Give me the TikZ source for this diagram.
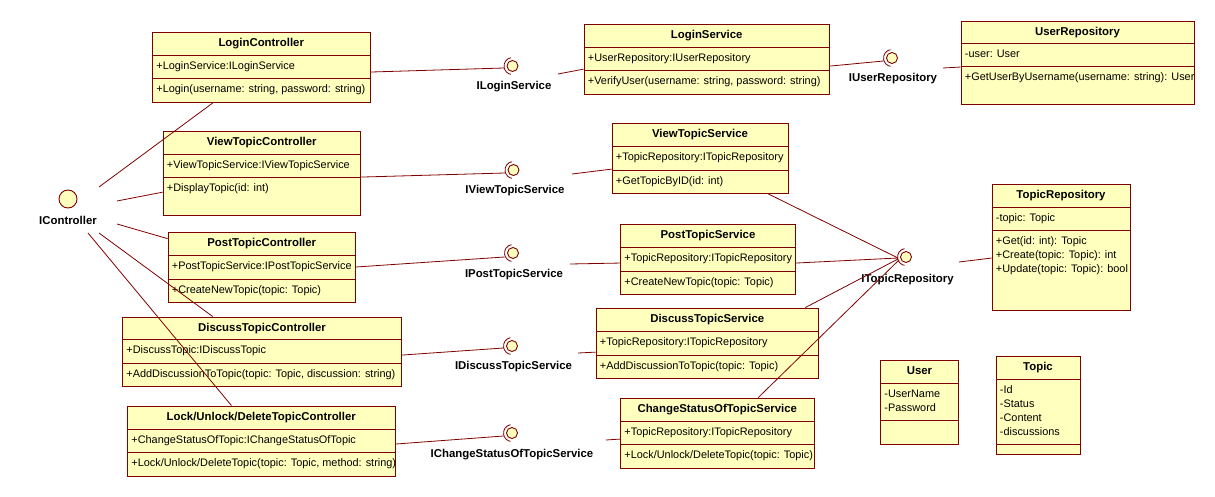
\documentclass[tikz,border=0pt]{standalone}
\usepackage{fontspec}
\setmainfont{Liberation Sans}
\usetikzlibrary{calc,fit}
\definecolor{rosefill}{RGB}{255,255,190}
\definecolor{roseline}{RGB}{128,0,0}
\tikzset{
  clsbox/.style={draw=roseline, fill=rosefill, line width=0.9pt, inner sep=0pt},
  clsline/.style={draw=roseline, line width=0.9pt},
  ctitle/.style={font=\bfseries\fontsize{11.4}{13}\selectfont, anchor=base, inner sep=0pt},
  ctext/.style={font=\fontsize{10.9}{13}\selectfont, anchor=base west, inner sep=0pt},
  conn/.style={draw=roseline, line width=0.8pt},
  iface/.style={circle, draw=roseline, fill=rosefill, line width=0.9pt, minimum size=11pt, inner sep=0pt},
  ilabel/.style={font=\bfseries\fontsize{11.4}{13}\selectfont, inner sep=0pt},
}
\newcommand\umlcls[8]{%
  \coordinate (#1-nw) at #2;
  \coordinate (#1-se) at #3;
  \node[clsbox, fit=(#1-nw)(#1-se)] (#1) {};
  \draw[clsline] (#1.west |- 0,#4) -- (#1.east |- 0,#4);
  \draw[clsline] (#1.west |- 0,#5) -- (#1.east |- 0,#5);
  \node[ctitle] (#1-t) at ($(#1.north)+(0,14.5)$) {#6};
  \foreach \ltext [count=\lidx] in {#7} {%
    \node[ctext] (#1-a\lidx) at ($(#1.west |- 0,#4)+(4.2,14.5*1+14*\lidx-14)$) {\ltext};}
  \foreach \ltext [count=\lidx] in {#8} {%
    \node[ctext] (#1-o\lidx) at ($(#1.west |- 0,#5)+(4.2,14.5*1+14*\lidx-14)$) {\ltext};}
}
\newcommand\uiface[4]{%
  \node[iface] (#1) at #2 {};
  \node[ilabel] (#1-l) at #3 {#4};
  \draw[conn] ([shift={(100:8.5pt)}]#1.center) arc[start angle=100, end angle=260, radius=8.5pt];
}
\begin{document}
\begin{tikzpicture}[x=1pt, y=-1pt]
\fill[white] (0,0) rectangle (1215,497);
\useasboundingbox (0,0) rectangle (1215,497);

% controllers
\umlcls{lc}{(152.5,32.5)}{(370,102.5)}{55}{78.5}{LoginController}
  {{+LoginService:ILoginService}}{{+Login(username: string, password: string)}}
\umlcls{vtc}{(163,131)}{(360.5,215)}{154}{177}{ViewTopicController}
  {{+ViewTopicService:IViewTopicService}}{{+DisplayTopic(id: int)}}
\umlcls{ptc}{(168,232)}{(355.5,302)}{255}{279}{PostTopicController}
  {{+PostTopicService:IPostTopicService}}{{+CreateNewTopic(topic: Topic)}}
\umlcls{dtc}{(122.5,317)}{(401.5,386)}{339}{363}{DiscussTopicController}
  {{+DiscussTopic:IDiscussTopic}}{{+AddDiscussionToTopic(topic: Topic, discussion: string)}}
\umlcls{ludc}{(127.5,406)}{(395,476)}{429}{452}{Lock/Unlock/DeleteTopicController}
  {{+ChangeStatusOfTopic:IChangeStatusOfTopic}}{{+Lock/Unlock/DeleteTopic(topic: Topic, method: string)}}

% services
\umlcls{ls}{(584,24)}{(829.5,94)}{47}{70}{LoginService}
  {{+UserRepository:IUserRepository}}{{+VerifyUser(username: string, password: string)}}
\umlcls{vts}{(612,123)}{(788,193)}{146}{170}{ViewTopicService}
  {{+TopicRepository:ITopicRepository}}{{+GetTopicByID(id: int)}}
\umlcls{pts}{(620.5,224)}{(795.5,294)}{247}{271}{PostTopicService}
  {{+TopicRepository:ITopicRepository}}{{+CreateNewTopic(topic: Topic)}}
\umlcls{dts}{(596,308)}{(818.5,378)}{331}{355}{DiscussTopicService}
  {{+TopicRepository:ITopicRepository}}{{+AddDiscussionToTopic(topic: Topic)}}
\umlcls{css}{(620.5,398)}{(814,468)}{421}{444}{ChangeStatusOfTopicService}
  {{+TopicRepository:ITopicRepository}}{{+Lock/Unlock/DeleteTopic(topic: Topic)}}

% repositories and entities
\umlcls{ur}{(961,21)}{(1194,104)}{43}{66}{UserRepository}
  {{-user: User}}{{+GetUserByUsername(username: string): User}}
\umlcls{tr}{(992,184)}{(1130,310)}{207}{230}{TopicRepository}
  {{-topic: Topic}}{{+Get(id: int): Topic},{+Create(topic: Topic): int},{+Update(topic: Topic): bool}}
\umlcls{usr}{(880.5,360)}{(958.5,444)}{383}{420}{User}
  {{-UserName},{-Password}}{}
\umlcls{tpc}{(996,356)}{(1080,454)}{379}{444}{Topic}
  {{-Id},{-Status},{-Content},{-discussions}}{}

% interfaces
\node[iface, minimum size=18pt] (ic) at (68,199) {};
\node[ilabel] (ic-l) at (68,220) {IController};
\uiface{ils}{(512.5,66)}{(514,87)}{ILoginService}
\uiface{ivts}{(513.5,170)}{(515,191)}{IViewTopicService}
\uiface{ipts}{(513,253)}{(514,275)}{IPostTopicService}
\uiface{idts}{(512,346)}{(513.5,367)}{IDiscussTopicService}
\uiface{icss}{(512,433)}{(512,455)}{IChangeStatusOfTopicService}
\uiface{iur}{(892,58)}{(893,79)}{IUserRepository}
\uiface{itr}{(906,257)}{(907.5,280)}{ITopicRepository}

% IController connectors
\coordinate (ic-1) at (99,187);
\coordinate (ic-2) at (117,201);
\coordinate (ic-3) at (117,224);
\coordinate (ic-4) at (99,233);
\coordinate (ic-5) at (88,233);
\draw[conn] (ic-1) -- ($(lc.south west)!0.278!(lc.south east)$);
\draw[conn] (ic-2) -- ($(vtc.north west)!0.726!(vtc.south west)$);
\draw[conn] (ic-3) -- ($(ptc.north west)!0.1!(ptc.south west)$);
\draw[conn] (ic-4) -- ($(dtc.north west)!0.324!(dtc.north east)$);
\draw[conn] (ic-5) -- ($(ludc.north west)!0.389!(ludc.north east)$);

% controller -> interface
\draw[conn] ($(lc.north east)!0.564!(lc.south east)$) -- ($(ils)+(-8.5,2)$);
\draw[conn] ($(vtc.north east)!0.548!(vtc.south east)$) -- ($(ivts)+(-8.5,3)$);
\draw[conn] ($(ptc.north east)!0.5!(ptc.south east)$) -- ($(ipts)+(-8.5,4)$);
\draw[conn] ($(dtc.north east)!0.551!(dtc.south east)$) -- ($(idts)+(-8.5,2)$);
\draw[conn] ($(ludc.north east)!0.543!(ludc.south east)$) -- ($(icss)+(-8.5,3)$);

% interface -> service
\draw[conn] ($(ils)+(45.5,8)$) -- ($(ls.north west)!0.643!(ls.south west)$);
\draw[conn] ($(ivts)+(58.5,4)$) -- ($(vts.north west)!0.657!(vts.south west)$);
\draw[conn] ($(ipts)+(57,11)$) -- ($(pts.north west)!0.557!(pts.south west)$);
\draw[conn] ($(idts)+(66,7)$) -- ($(dts.north west)!0.629!(dts.south west)$);
\draw[conn] ($(icss)+(94,7)$) -- ($(css.north west)!0.586!(css.south west)$);

% services -> repositories
\draw[conn] ($(ls.north east)!0.6!(ls.south east)$) -- ($(iur)+(-8.5,3)$);
\draw[conn] ($(iur)+(51,10)$) -- ($(ur.north west)!0.554!(ur.south west)$);
\draw[conn] ($(vts.south west)!0.881!(vts.south east)$) -- ($(itr)+(-8,1)$);
\draw[conn] ($(pts.north east)!0.557!(pts.south east)$) -- ($(itr)+(-8,1)$);
\draw[conn] ($(dts.north west)!0.939!(dts.north east)$) -- ($(itr)+(-8,2)$);
\draw[conn] ($(css.north west)!0.711!(css.north east)$) -- ($(itr)+(-7,3)$);
\draw[conn] ($(itr)+(53,5)$) -- ($(tr.north west)!0.587!(tr.south west)$);
\end{tikzpicture}
\end{document}
